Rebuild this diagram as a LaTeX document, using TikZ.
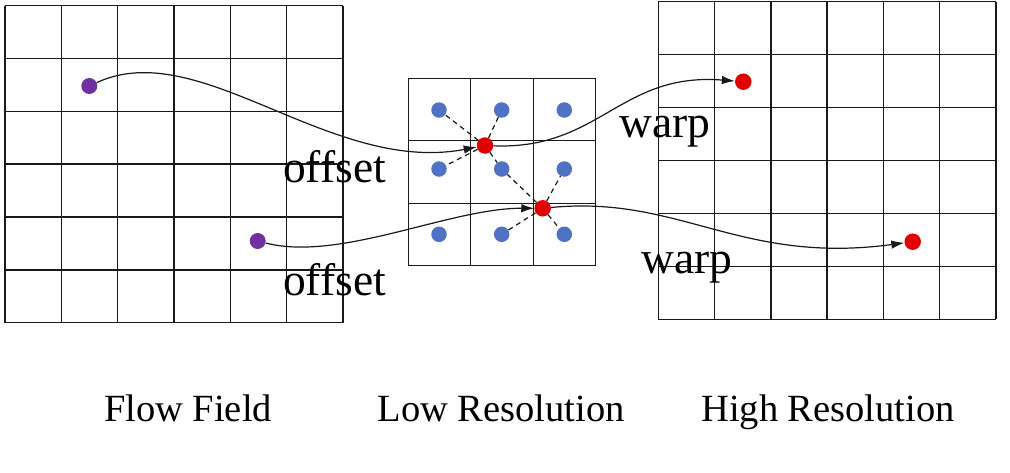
\documentclass[tikz,border=0pt]{standalone}
\usepackage{fontspec}
\setmainfont{Liberation Serif}
\usetikzlibrary{arrows.meta}
\definecolor{dotpurple}{RGB}{112,48,160}
\definecolor{dotblue}{RGB}{80,114,196}
\definecolor{dotred}{RGB}{224,0,0}
\tikzset{
  gridline/.style={line width=1.4pt, black!90},
  dotp/.style={circle, fill=dotpurple, inner sep=0pt, minimum size=16pt},
  dotb/.style={circle, fill=dotblue, inner sep=0pt, minimum size=15.5pt},
  dotr/.style={circle, fill=dotred, inner sep=0pt, minimum size=16.5pt},
  flow/.style={line width=1.2pt, black!90, -{Latex[length=13pt,width=8.5pt]}},
  dsh/.style={line width=1.2pt, black!90, dash pattern=on 5pt off 4pt},
  biglabel/.style={inner sep=0pt, anchor=base west, font=\fontsize{45.5}{54}\selectfont},
  caption/.style={inner sep=0pt, anchor=base, font=\fontsize{38.5}{46}\selectfont}
}
\begin{document}
\begin{tikzpicture}[x=1pt,y=-1pt]
\useasboundingbox (0,0) rectangle (1010,472);
% left grid
\foreach \i in {0,...,6} {
  \draw[gridline] ({5+\i*56.33},5.7) -- ({5+\i*56.33},322.7);
  \draw[gridline] (5,{5.7+\i*52.83}) -- (343,{5.7+\i*52.83});
}
% right grid
\foreach \i in {0,...,6} {
  \draw[gridline] ({658.3+\i*56.28},1.7) -- ({658.3+\i*56.28},319.3);
  \draw[gridline] (658.3,{1.7+\i*52.93}) -- (996,{1.7+\i*52.93});
}
% middle grid
\foreach \i in {0,...,3} {
  \draw[gridline] ({408.3+\i*62.47},78.3) -- ({408.3+\i*62.47},265.7);
  \draw[gridline] (408.3,{78.3+\i*62.47}) -- (595.7,{78.3+\i*62.47});
}
% dots
\node[dotp] (p1) at (89.3,86) {};
\node[dotp] (p2) at (257.7,241) {};
\foreach \c/\x in {1/439,2/501.7,3/564.3} {
  \node[dotb] (b1\c) at (\x,110) {};
  \node[dotb] (b2\c) at (\x,169) {};
  \node[dotb] (b3\c) at (\x,234.3) {};
}
\node[dotr] (r1) at (485,145.5) {};
\node[dotr] (r2) at (542.7,208.3) {};
\node[dotr] (h1) at (743.3,81.7) {};
\node[dotr] (h2) at (912.7,241.7) {};
% dashed sampling lines
\foreach \t in {b11,b12,b21,b22} \draw[dsh] (r1) -- (\t);
\foreach \t in {b22,b23,b32,b33} \draw[dsh] (r2) -- (\t);
% flow curves
\draw[flow] (p1) .. controls (200,35) and (330,175) .. (r1);
\draw[flow] (r1) .. controls (600,150) and (620,72) .. (h1);
\draw[flow] (p2) .. controls (340,262) and (450,208) .. (r2);
\draw[flow] (r2) .. controls (680,195) and (740,265) .. (h2);
% labels
\node[biglabel] (off1) at (283,182) {offset};
\node[biglabel] (off2) at (283,295) {offset};
\node[biglabel] (warp1) at (619,137) {warp};
\node[biglabel] (warp2) at (641,273) {warp};
\node[caption] (capL) at (188,421.7) {Flow Field};
\node[caption] (capM) at (501,421.7) {Low Resolution};
\node[caption] (capR) at (828,421.7) {High Resolution};
\end{tikzpicture}
\end{document}
